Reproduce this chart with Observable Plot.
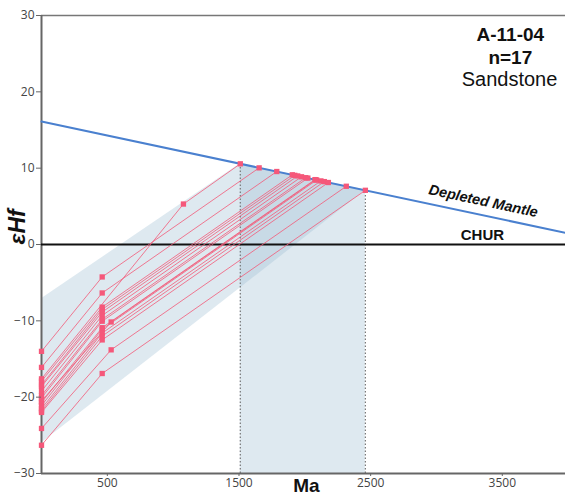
<!DOCTYPE html>
<html>
<head>
<meta charset="utf-8">
<script src="https://cdn.jsdelivr.net/npm/d3@7"></script>
<script src="https://cdn.jsdelivr.net/npm/@observablehq/plot@0.6"></script>
<style>
  body { margin: 0; background: #fff; }
</style>
</head>
<body>
<div id="chart"></div>
<script>
// ---- data ----
// crystallization age (Ma), εHf(t), present-day εHf(0), model age TDM (Ma), εHf of DM at TDM
const grainAge  = [1078, 461, 461, 461, 461, 461, 461, 461, 461, 461, 461, 461, 461, 461, 461, 529, 529];
const grainEps  = [5.3, -4.25, -6.35, -8.2, -8.5, -8.85, -9.3, -9.8, -10.05, -10.9, -11.1, -11.6, -12.0, -12.5, -16.9, -10.15, -13.8];
const grainEps0 = [-17.6, -14.0, -16.1, -17.9, -18.4, -18.6, -19.2, -19.8, -20.1, -20.7, -21.1, -21.5, -21.8, -22.0, -26.3, -20.5, -24.1];
const grainTdm  = [1510, 1653, 1787, 1905, 1924, 1946, 1975, 2007, 2023, 2077, 2090, 2122, 2148, 2179, 2460, 2082, 2315];
const grainEdm  = [10.57, 10.04, 9.56, 9.13, 9.06, 8.98, 8.87, 8.75, 8.70, 8.50, 8.45, 8.33, 8.24, 8.12, 7.10, 8.48, 7.63];

// depleted mantle reference line
const dmAge = [0, 3980];
const dmEps = [16.1, 1.53];

// TDM range band (vertical shaded area)
const bandAge = [1510, 2460];
const bandTop = [10.57, 7.10];

// crustal evolution envelope
const envAge  = [0, 1510, 2460];
const envLow  = [-26.0, -5.7, 7.10];
const envHigh = [-7.1, 10.57, 7.10];

const xTicks = [500, 1500, 2500, 3500];
const yTicks = [-30, -20, -10, 0, 10, 20, 30];

// ---- derived tables ----
const pathRows = [];
const dotRows = [];
grainAge.forEach((t, i) => {
  const pts = [
    {g: i, x: 0, y: grainEps0[i]},
    {g: i, x: t, y: grainEps[i]},
    {g: i, x: grainTdm[i], y: grainEdm[i]}
  ];
  pathRows.push(...pts);
  dotRows.push(...pts);
});
const dmRows = dmAge.map((x, i) => ({x, y: dmEps[i]}));
const bandRows = bandAge.map((x, i) => ({x, y1: -30, y2: bandTop[i]}));
const envRows = envAge.map((x, i) => ({x, y1: envLow[i], y2: envHigh[i]}));

const blue = "#9bbdd2";
const pink = "#f25a78";
const labelFont = "Liberation Sans, Arial, sans-serif";

const chart = Plot.plot({
  width: 565,
  height: 499,
  marginLeft: 41,
  marginRight: 0,
  marginTop: 15,
  marginBottom: 26,
  style: {fontFamily: "Open Sans, sans-serif", fontSize: "12px", color: "#444"},
  x: {domain: [0, 3980]},
  y: {domain: [-30, 30]},
  marks: [
    Plot.areaY(bandRows, {x: "x", y1: "y1", y2: "y2", fill: blue, fillOpacity: 0.33}),
    Plot.areaY(envRows, {x: "x", y1: "y1", y2: "y2", fill: blue, fillOpacity: 0.33}),
    Plot.ruleX(bandRows, {x: "x", y1: "y1", y2: "y2", stroke: "#777", strokeWidth: 1.2, strokeDasharray: "1.5,2"}),
    Plot.ruleY([30], {stroke: "#777", strokeWidth: 1.5}),
    Plot.ruleY([-30], {stroke: "#666", strokeWidth: 1.8}),
    Plot.ruleX([0], {stroke: "#666", strokeWidth: 2}),
    Plot.ruleY([0], {stroke: "#111", strokeWidth: 1.8}),
    Plot.line(dmRows, {x: "x", y: "y", stroke: "#4a80cf", strokeWidth: 2}),
    Plot.line(pathRows, {x: "x", y: "y", z: "g", stroke: pink, strokeOpacity: 0.8, strokeWidth: 1}),
    Plot.dot(dotRows, {x: "x", y: "y", symbol: "square", r: 3, fill: "#f5587a", stroke: "none"}),
    Plot.axisX(xTicks, {tickSize: 3, tickPadding: 2, fontSize: 12, stroke: "#666", fill: "#444", label: null, tickFormat: d => String(d)}),
    Plot.axisY(yTicks, {tickSize: 5, tickPadding: 2, fontSize: 12, stroke: "#666", fill: "#444", label: null}),
    Plot.text(["A-11-04"], {x: 3561, y: 27.47, fontSize: 19, fontWeight: "bold", fontFamily: labelFont, fill: "#111"}),
    Plot.text(["n=17"], {x: 3561, y: 24.45, fontSize: 19, fontWeight: "bold", fontFamily: labelFont, fill: "#111"}),
    Plot.text(["Sandstone"], {x: 3555, y: 21.63, fontSize: 20, fontFamily: labelFont, fill: "#111"}),
    Plot.text(["Depleted Mantle"], {x: 3356, y: 5.68, rotate: 12, fontSize: 14.5, fontWeight: "bold", fontStyle: "italic", fontFamily: labelFont, fill: "#111"}),
    Plot.text(["CHUR"], {x: 3349, y: 1.18, fontSize: 15, fontWeight: "bold", fontFamily: labelFont, fill: "#111"}),
    Plot.text(["εHf"], {frameAnchor: "left", dx: -24, rotate: -90, fontSize: 23, fontWeight: "bold", fontStyle: "italic", fontFamily: labelFont, fill: "#111"}),
    Plot.text(["Ma"], {x: 2012, frameAnchor: "bottom", dy: 18, fontSize: 19, fontWeight: "bold", fontFamily: labelFont, fill: "#111"})
  ]
});
document.getElementById("chart").appendChild(chart);
</script>
</body>
</html>
